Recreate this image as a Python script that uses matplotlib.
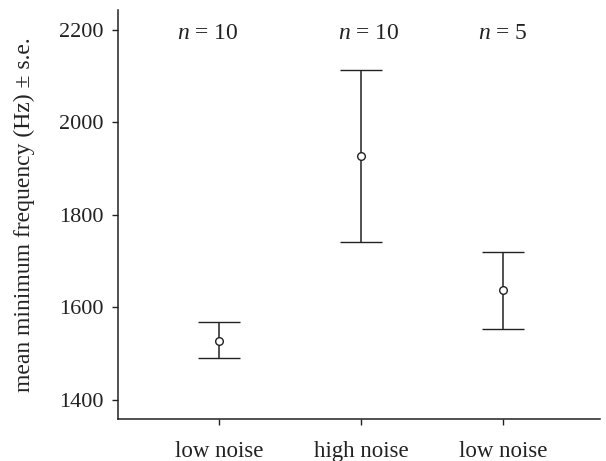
import matplotlib.pyplot as plt

plt.rcParams['font.family'] = ['Liberation Serif', 'DejaVu Serif']
plt.rcParams['mathtext.fontset'] = 'custom'
plt.rcParams['mathtext.it'] = 'Liberation Serif:italic'
plt.rcParams['mathtext.rm'] = 'Liberation Serif'

groups = ['low noise', 'high noise', 'low noise']
means = [1527, 1928, 1638]
upper = [1567, 2113, 1720]
lower = [1490, 1741, 1553]
n_labels = ['$n$ = 10', '$n$ = 10', '$n$ = 5']

x = [1, 2, 3]
err_lo = [m - l for m, l in zip(means, lower)]
err_hi = [u - m for m, u in zip(means, upper)]

col = '#222222'
fig = plt.figure(figsize=(6.06, 4.61), dpi=100)
ax = fig.add_axes([0.195, 0.091, 0.795, 0.887])

ax.errorbar(x, means, yerr=[err_lo, err_hi], fmt='o', color=col,
            mfc='white', mec=col, ms=5.5, mew=1.0, elinewidth=1.1,
            capsize=15, capthick=1.1)

# n labels above each group
for xi, lab, dx in zip(x, n_labels, [-0.08, 0.055, 0.0]):
    ax.text(xi + dx, 2192, lab, ha='center', va='center', fontsize=17, color=col)

ax.set_xlim(0.288, 3.68)
ax.set_ylim(1358, 2243)
ax.set_yticks([1400, 1600, 1800, 2000, 2200])
ax.set_xticks(x)
ax.set_xticklabels(groups)
ax.set_ylabel('mean minimum frequency (Hz) ± s.e.', fontsize=17, color=col)
ax.yaxis.set_label_coords(-0.172, 0.5)

for s in ['top', 'right']:
    ax.spines[s].set_visible(False)
for s in ['left', 'bottom']:
    ax.spines[s].set_color(col)
    ax.spines[s].set_linewidth(1.1)

ax.tick_params(axis='y', length=4, width=1.0, pad=6.5, labelsize=16, colors=col)
ax.tick_params(axis='x', length=4, width=1.0, pad=12, labelsize=16.5, colors=col)

fig.savefig('out.png', dpi=100)
